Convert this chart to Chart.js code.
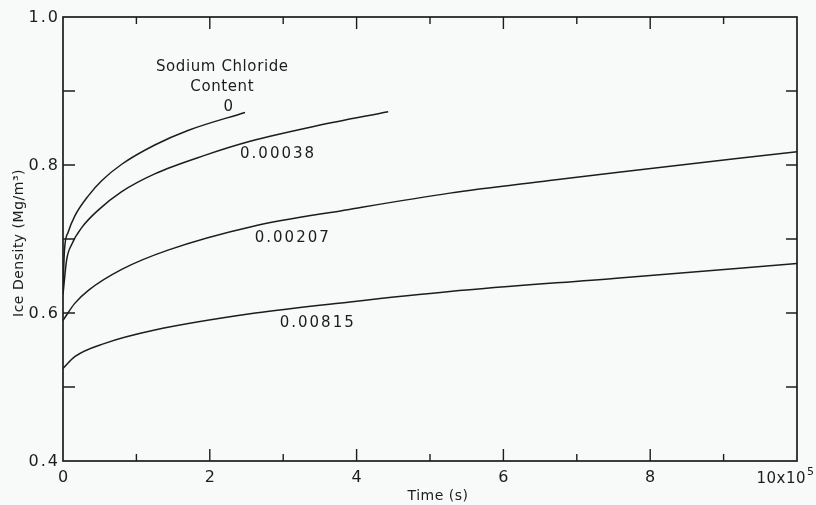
<!DOCTYPE html>
<html><head><meta charset="utf-8">
<script src="https://cdn.jsdelivr.net/npm/chart.js@4"></script>
<style>html,body{margin:0;padding:0;background:#f8faf9;} canvas{display:block;}</style>
</head><body>
<canvas id="c" width="816" height="505"></canvas>
<script>
// ---- data (time in units of 1e5 s, density in Mg/m^3) ----
const xTickValues = [0, 2, 4, 6, 8, 10];
const xTickLabels = ['0', '2', '4', '6', '8', '10x10'];
const yTickValues = [0.4, 0.6, 0.8, 1.0];
const yTickLabels = ['0.4', '0.6', '0.8', '1.0'];
const seriesNames = ['0', '0.00038', '0.00207', '0.00815'];

const time0 = [0, 0.02, 0.07, 0.16, 0.35, 0.53, 0.80, 1.25, 1.71, 2.48];
const dens0 = [0.632, 0.685, 0.709, 0.731, 0.759, 0.779, 0.801, 0.827, 0.847, 0.871];

const time38 = [0, 0.05, 0.12, 0.26, 0.48, 0.80, 1.25, 1.93, 2.55, 3.46, 4.43];
const dens38 = [0.625, 0.672, 0.693, 0.716, 0.739, 0.764, 0.788, 0.813, 0.832, 0.853, 0.872];

const time207 = [0, 0.16, 0.35, 0.80, 1.43, 2.58, 3.90, 5.27, 6.63, 7.54, 10];
const dens207 = [0.590, 0.613, 0.631, 0.659, 0.685, 0.717, 0.740, 0.762, 0.779, 0.790, 0.818];

const time815 = [0, 0.16, 0.57, 1.25, 2.62, 3.91, 5.27, 7.54, 10];
const dens815 = [0.525, 0.541, 0.559, 0.577, 0.600, 0.615, 0.629, 0.647, 0.667];

// ---- build ----
const toPts = (xs, ys) => xs.map((x, i) => ({x: x, y: ys[i]}));
const seriesTimes = [time0, time38, time207, time815];
const seriesDens = [dens0, dens38, dens207, dens815];

// label anchor points (data coords)
const labelPos = [
  {text: 'Sodium Chloride', x: 2.17, y: 0.932, sp: 0.6},
  {text: 'Content', x: 2.17, y: 0.905, sp: 0.6},
  {text: seriesNames[0], x: 2.25, y: 0.878, sp: 0},
  {text: seriesNames[1], x: 2.93, y: 0.815, sp: 2},
  {text: seriesNames[2], x: 3.13, y: 0.701, sp: 2},
  {text: seriesNames[3], x: 3.47, y: 0.586, sp: 2}
];

const INK = '#1c1c1c';
const FONT = '"DejaVu Sans", sans-serif';

const decor = {
  id: 'decor',
  afterDraw(chart) {
    const ctx = chart.ctx, a = chart.chartArea;
    const xs = chart.scales.x, ys = chart.scales.y;
    ctx.save();
    ctx.strokeStyle = INK; ctx.fillStyle = INK;
    ctx.lineWidth = 1.7;
    ctx.strokeRect(a.left, a.top, a.right - a.left, a.bottom - a.top);
    ctx.lineWidth = 1.4;
    ctx.beginPath();
    for (let v = 1; v < 10; v++) {
      const px = xs.getPixelForValue(v);
      const len = v % 2 === 0 ? 12 : 7;
      ctx.moveTo(px, a.bottom); ctx.lineTo(px, a.bottom - len);
      ctx.moveTo(px, a.top); ctx.lineTo(px, a.top + len);
    }
    for (let k = 5; k < 10; k++) {
      const py = ys.getPixelForValue(k / 10);
      ctx.moveTo(a.left, py); ctx.lineTo(a.left + 12, py);
      ctx.moveTo(a.right, py); ctx.lineTo(a.right - 11, py);
    }
    ctx.stroke();

    // tick labels
    ctx.font = '16px ' + FONT;
    ctx.letterSpacing = '2px';
    ctx.textBaseline = 'middle';
    ctx.textAlign = 'right';
    yTickValues.forEach((v, i) => {
      ctx.fillText(yTickLabels[i], a.left - 3, ys.getPixelForValue(v) + 1);
    });
    ctx.textAlign = 'center';
    xTickValues.forEach((v, i) => {
      const px = xs.getPixelForValue(v);
      if (i === xTickValues.length - 1) {
        ctx.font = '15px ' + FONT;
        ctx.letterSpacing = '0.5px';
        ctx.textAlign = 'right';
        ctx.fillText(xTickLabels[i], px + 9, a.bottom + 18);
        ctx.font = '11px ' + FONT;
        ctx.textAlign = 'left';
        ctx.fillText('5', px + 10, a.bottom + 11);
      } else {
        ctx.fillText(xTickLabels[i], px + 1, a.bottom + 17);
      }
    });

    // axis titles
    ctx.letterSpacing = '0.5px';
    ctx.font = '14px ' + FONT;
    ctx.textAlign = 'center';
    ctx.fillText('Time (s)', (a.left + a.right) / 2 + 8, a.bottom + 35);
    ctx.save();
    ctx.translate(19, (a.top + a.bottom) / 2 + 4);
    ctx.rotate(-Math.PI / 2);
    ctx.fillText('Ice Density (Mg/m\u00B3)', 0, 0);
    ctx.restore();

    // curve annotations
    ctx.font = '15px ' + FONT;
    ctx.textAlign = 'center';
    labelPos.forEach(l => {
      ctx.letterSpacing = l.sp + 'px';
      ctx.fillText(l.text, xs.getPixelForValue(l.x), ys.getPixelForValue(l.y));
    });
    ctx.restore();
  }
};

const bg = {
  id: 'bg',
  beforeDraw(chart) {
    const ctx = chart.ctx;
    ctx.save(); ctx.fillStyle = '#f8faf9';
    ctx.fillRect(0, 0, chart.width, chart.height); ctx.restore();
  }
};

new Chart(document.getElementById('c'), {
  type: 'scatter',
  data: {
    datasets: seriesNames.map((n, i) => ({
      label: n,
      data: toPts(seriesTimes[i], seriesDens[i]),
      showLine: true,
      borderColor: INK,
      borderWidth: 1.5,
      pointRadius: 0,
      cubicInterpolationMode: 'monotone',
      fill: false
    }))
  },
  options: {
    responsive: false,
    animation: false,
    layout: {padding: {left: 63, right: 19, top: 17, bottom: 44}},
    plugins: {legend: {display: false}, tooltip: {enabled: false}},
    scales: {
      x: {type: 'linear', min: 0, max: 10, display: false},
      y: {type: 'linear', min: 0.4, max: 1.0, display: false}
    }
  },
  plugins: [bg, decor]
});
</script>
</body></html>
